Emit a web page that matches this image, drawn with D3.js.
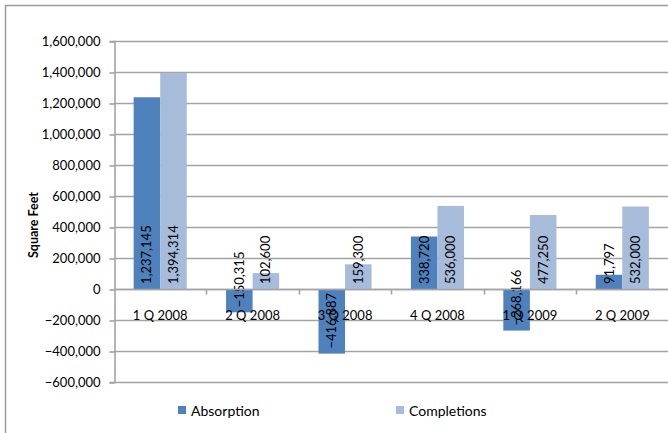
<!DOCTYPE html>
<html>
<head>
<meta charset="utf-8">
<script src="https://cdn.jsdelivr.net/npm/d3@7"></script>
<style>
  html, body { margin: 0; padding: 0; background: #fff; }
  svg { display: block; }
  text { font-family: Lato, "Open Sans", sans-serif; fill: #000; }
</style>
</head>
<body>
<svg id="chart" width="668" height="433"></svg>
<script>
// Quarterly office market figures, square feet
const quarters = ["1 Q 2008", "2 Q 2008", "3 Q 2008", "4 Q 2008", "1 Q 2009", "2 Q 2009"];
const absorption = [1237145, -150315, -416887, 338720, -268166, 91797];
const completions = [1394314, 102600, 159300, 536000, 477250, 532000];
const seriesNames = ["Absorption", "Completions"];
const seriesColors = ["#4F81BD", "#A7BCDB"];
const yTicks = [-600000, -400000, -200000, 0, 200000, 400000, 600000, 800000, 1000000, 1200000, 1400000, 1600000];

const svg = d3.select("#chart");
const fmt = d3.format(",");

// chart frame
svg.append("rect")
  .attr("x", 5.5).attr("y", 5.5)
  .attr("width", 700).attr("height", 500)
  .attr("fill", "none").attr("stroke", "#9a9a9a").attr("stroke-width", 1.5);

const plotLeft = 114, plotRight = 668.5, plotTop = 41, plotBottom = 382;

const x = d3.scaleBand().domain(quarters).range([plotLeft, plotRight]).paddingInner(0).paddingOuter(0);
const inner = d3.scaleBand().domain(seriesNames).range([0, x.bandwidth()]).paddingInner(0).paddingOuter(0.74);
const y = d3.scaleLinear().domain([-600000, 1600000]).range([plotBottom, plotTop]);

// horizontal gridlines
svg.append("g").selectAll("line").data(yTicks).join("line")
  .attr("x1", plotLeft).attr("x2", plotRight)
  .attr("y1", d => Math.round(y(d)) + 0.5).attr("y2", d => Math.round(y(d)) + 0.5)
  .attr("stroke", "#a3a3a3").attr("stroke-width", 1.6);

// y axis
const yAxis = svg.append("g")
  .attr("transform", `translate(${plotLeft + 0.5},0)`)
  .call(d3.axisLeft(y).tickValues(yTicks).tickFormat(fmt).tickSize(5).tickPadding(9));
yAxis.select(".domain").attr("stroke", "#a3a3a3").attr("stroke-width", 1.6);
yAxis.selectAll(".tick line").attr("stroke", "#a3a3a3").attr("stroke-width", 1.6)
  .attr("transform", d => `translate(0,${Math.round(y(d)) + 0.5 - y(d)})`);
yAxis.selectAll("text").style("font-family", "Lato, sans-serif").style("font-size", "13px").attr("fill", "#000");

// bars
const data = quarters.map((q, i) => ({ q, values: [absorption[i], completions[i]] }));
const groups = svg.append("g").selectAll("g").data(data).join("g")
  .attr("transform", d => `translate(${x(d.q)},0)`);

groups.selectAll("rect").data(d => d.values.map((v, k) => ({ v, k }))).join("rect")
  .attr("x", d => inner(seriesNames[d.k]))
  .attr("width", inner.bandwidth())
  .attr("y", d => y(Math.max(0, d.v)))
  .attr("height", d => Math.abs(y(d.v) - y(0)))
  .attr("fill", d => seriesColors[d.k]);

// category axis along zero
const xAxis = svg.append("g").attr("transform", `translate(0,${Math.round(y(0)) + 0.5})`);
xAxis.append("line").attr("x1", plotLeft).attr("x2", plotRight)
  .attr("stroke", "#a3a3a3").attr("stroke-width", 1.6);
xAxis.selectAll(".tk").data(quarters.slice(1)).join("line")
  .attr("class", "tk")
  .attr("x1", d => Math.round(x(d)) + 0.5).attr("x2", d => Math.round(x(d)) + 0.5)
  .attr("y1", 0).attr("y2", 5)
  .attr("stroke", "#a3a3a3").attr("stroke-width", 1.6);
xAxis.selectAll("text").data(quarters).join("text")
  .attr("x", d => x(d) + x.bandwidth() / 2)
  .attr("y", 30)
  .attr("text-anchor", "middle")
  .style("font-size", "13px")
  .text(d => d);

// value labels, rotated, starting near the lower edge of each bar
groups.selectAll("text.val").data(d => d.values.map((v, k) => ({ v, k }))).join("text")
  .attr("class", "val")
  .attr("transform", d => {
    const cx = inner(seriesNames[d.k]) + inner.bandwidth() / 2 + 4.5;
    const cy = Math.max(y(0), y(d.v)) - 5;
    return `translate(${cx},${cy}) rotate(-90)`;
  })
  .style("font-size", "13px")
  .text(d => fmt(d.v));

// y axis title
svg.append("text")
  .attr("transform", "translate(38,225) rotate(-90)")
  .attr("text-anchor", "middle")
  .style("font-size", "12.5px").style("font-weight", "bold")
  .text("Square Feet");

// legend
const legend = svg.append("g");
const legendX = [178, 396];
seriesNames.forEach((name, k) => {
  legend.append("rect").attr("x", legendX[k]).attr("y", 406).attr("width", 8).attr("height", 8)
    .attr("fill", seriesColors[k]);
  legend.append("text").attr("x", legendX[k] + 13).attr("y", 416)
    .style("font-size", "14px").text(name);
});
</script>
</body>
</html>
